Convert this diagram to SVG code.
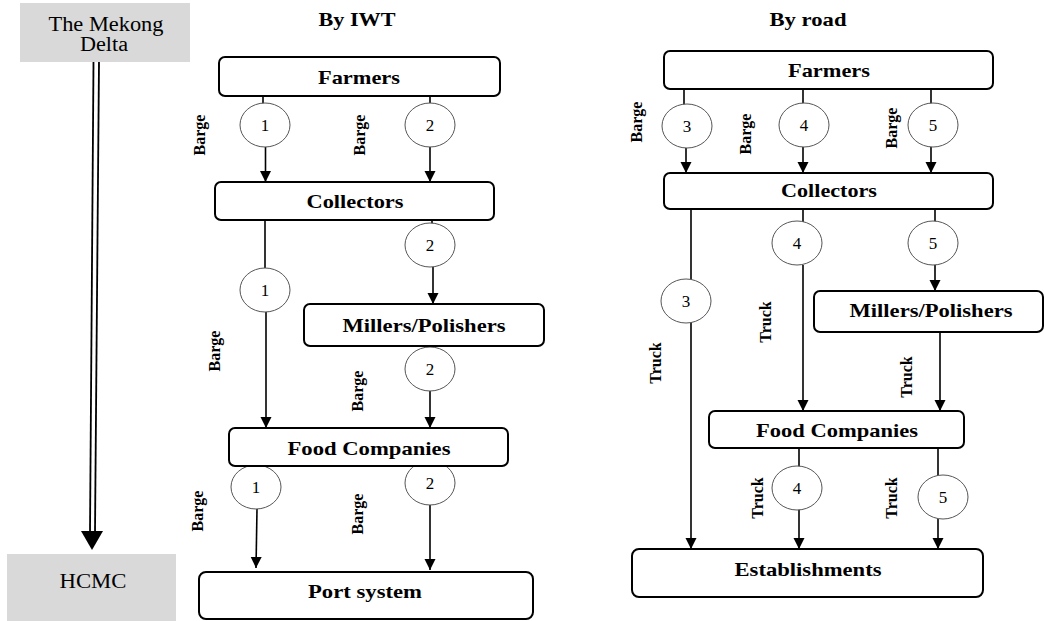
<svg xmlns="http://www.w3.org/2000/svg" width="1044" height="621" viewBox="0 0 1044 621">
  <style>
    .box { fill: #ffffff; stroke: #000000; stroke-width: 2; }
    .region { fill: #d9d9d9; stroke: none; }
    .circ { fill: #ffffff; stroke: #555555; stroke-width: 1; }
    .lbl { font-family: "Liberation Serif", serif; font-weight: bold; font-size: 19px; fill: #000; text-anchor: middle; }
    .reg { font-family: "Liberation Serif", serif; font-size: 20px; fill: #000; text-anchor: middle; }
    .num { font-family: "Liberation Serif", serif; font-size: 17px; fill: #000; text-anchor: middle; }
    .mode { font-family: "Liberation Serif", serif; font-weight: bold; font-size: 16px; fill: #000; text-anchor: middle; }
    .ln { stroke: #000; stroke-width: 1.6; fill: none; }
    .arr { stroke: #000; stroke-width: 1.6; fill: none; marker-end: url(#tip); }
  </style>
  <defs>
    <marker id="tip" viewBox="0 0 10 10" refX="10" refY="5" markerWidth="11" markerHeight="12" markerUnits="userSpaceOnUse" orient="auto">
      <path d="M0,0 L10,5 L0,10 z" fill="#000"/>
    </marker>
  </defs>

  <rect width="1044" height="621" fill="#ffffff"/>

  <!-- Regions -->
  <g id="mekong-delta">
    <rect class="region" x="20" y="3" width="170" height="59"/>
    <text class="reg" x="106" y="31" textLength="115" lengthAdjust="spacingAndGlyphs">The Mekong</text>
    <text class="reg" x="104" y="51" textLength="48" lengthAdjust="spacingAndGlyphs">Delta</text>
  </g>
  <g id="hcmc">
    <rect class="region" x="7" y="554" width="169" height="67"/>
    <text class="reg" x="93" y="588" textLength="67" lengthAdjust="spacingAndGlyphs">HCMC</text>
  </g>
  <g id="route-arrow">
    <line x1="93.5" y1="62" x2="90" y2="532" stroke="#000" stroke-width="1.8"/>
    <line x1="99" y1="62" x2="95" y2="532" stroke="#000" stroke-width="1.8"/>
    <polygon points="81,531 103,531 92,550" fill="#000"/>
  </g>

  <!-- Titles -->
  <text class="lbl" x="357" y="26" font-size="18" textLength="77" lengthAdjust="spacingAndGlyphs">By IWT</text>
  <text class="lbl" x="808" y="26" font-size="18" textLength="77" lengthAdjust="spacingAndGlyphs">By road</text>

  <!-- Connectors -->
  <g id="connectors">
    <!-- IWT chain 1 -->
    <line class="ln" x1="263" y1="96" x2="263" y2="104"/>
    <line class="arr" x1="265.5" y1="147" x2="265.5" y2="182"/>
    <line class="ln" x1="265" y1="220" x2="265" y2="268"/>
    <line class="arr" x1="266" y1="312" x2="266" y2="428"/>
    <line class="arr" x1="257" y1="509" x2="256" y2="568"/>
    <!-- IWT chain 2 -->
    <line class="ln" x1="430" y1="96" x2="430" y2="104"/>
    <line class="arr" x1="430" y1="147" x2="430" y2="182"/>
    <line class="ln" x1="432" y1="220" x2="432" y2="224"/>
    <line class="arr" x1="433" y1="267" x2="433" y2="304"/>
    <line class="arr" x1="430" y1="391" x2="430" y2="428"/>
    <line class="arr" x1="430" y1="505" x2="430" y2="570"/>
    <!-- Road chain 3 -->
    <line class="ln" x1="684" y1="89" x2="684" y2="105"/>
    <line class="arr" x1="686" y1="148" x2="686" y2="173"/>
    <line class="ln" x1="691" y1="209" x2="691" y2="281"/>
    <line class="arr" x1="691" y1="322" x2="691" y2="549"/>
    <!-- Road chain 4 -->
    <line class="ln" x1="803" y1="89" x2="803" y2="104"/>
    <line class="arr" x1="803" y1="147" x2="803" y2="173"/>
    <line class="ln" x1="803" y1="209" x2="803" y2="222"/>
    <line class="arr" x1="803" y1="265" x2="803" y2="411"/>
    <line class="ln" x1="799" y1="448" x2="799" y2="467"/>
    <line class="arr" x1="799" y1="509" x2="799" y2="549"/>
    <!-- Road chain 5 -->
    <line class="ln" x1="931" y1="89" x2="931" y2="104"/>
    <line class="arr" x1="931" y1="147" x2="931" y2="173"/>
    <line class="ln" x1="935" y1="209" x2="935" y2="222"/>
    <line class="arr" x1="935" y1="265" x2="935" y2="291"/>
    <line class="arr" x1="940" y1="332" x2="940" y2="411"/>
    <line class="ln" x1="938" y1="448" x2="938" y2="477"/>
    <line class="arr" x1="938" y1="519" x2="938" y2="549"/>
  </g>

  <!-- Route markers -->
  <g id="route-markers">
    <ellipse class="circ" cx="265" cy="125" rx="25" ry="22"/><text class="num" x="265" y="131">1</text>
    <ellipse class="circ" cx="430" cy="125" rx="25" ry="22"/><text class="num" x="430" y="131">2</text>
    <ellipse class="circ" cx="430" cy="245" rx="25" ry="22"/><text class="num" x="430" y="251">2</text>
    <ellipse class="circ" cx="265" cy="290" rx="25" ry="22"/><text class="num" x="265" y="296">1</text>
    <ellipse class="circ" cx="430" cy="369" rx="25" ry="22"/><text class="num" x="430" y="375">2</text>
    <ellipse class="circ" cx="256" cy="487" rx="25" ry="22"/><text class="num" x="256" y="493">1</text>
    <ellipse class="circ" cx="430" cy="483" rx="25" ry="22"/><text class="num" x="430" y="489">2</text>

    <ellipse class="circ" cx="687" cy="126" rx="25" ry="22"/><text class="num" x="687" y="132">3</text>
    <ellipse class="circ" cx="804" cy="125" rx="25" ry="22"/><text class="num" x="804" y="131">4</text>
    <ellipse class="circ" cx="933" cy="125" rx="25" ry="22"/><text class="num" x="933" y="131">5</text>
    <ellipse class="circ" cx="797" cy="243" rx="25" ry="22"/><text class="num" x="797" y="249">4</text>
    <ellipse class="circ" cx="933" cy="243" rx="25" ry="22"/><text class="num" x="933" y="249">5</text>
    <ellipse class="circ" cx="686" cy="301" rx="25" ry="22"/><text class="num" x="686" y="307">3</text>
    <ellipse class="circ" cx="797" cy="488" rx="25" ry="22"/><text class="num" x="797" y="494">4</text>
    <ellipse class="circ" cx="943" cy="497" rx="25" ry="22"/><text class="num" x="943" y="503">5</text>
  </g>

  <!-- Transport mode labels -->
  <g id="mode-labels">
    <text class="mode" transform="translate(205,135) rotate(-90)">Barge</text>
    <text class="mode" transform="translate(365,135) rotate(-90)">Barge</text>
    <text class="mode" transform="translate(220,351) rotate(-90)">Barge</text>
    <text class="mode" transform="translate(363,391) rotate(-90)">Barge</text>
    <text class="mode" transform="translate(203,511) rotate(-90)">Barge</text>
    <text class="mode" transform="translate(363,514) rotate(-90)">Barge</text>
    <text class="mode" transform="translate(642,122) rotate(-90)">Barge</text>
    <text class="mode" transform="translate(751,134) rotate(-90)">Barge</text>
    <text class="mode" transform="translate(897,128) rotate(-90)">Barge</text>
    <text class="mode" transform="translate(771,322) rotate(-90)">Truck</text>
    <text class="mode" transform="translate(661,363) rotate(-90)">Truck</text>
    <text class="mode" transform="translate(912,377) rotate(-90)">Truck</text>
    <text class="mode" transform="translate(763,498) rotate(-90)">Truck</text>
    <text class="mode" transform="translate(897,498) rotate(-90)">Truck</text>
  </g>

  <!-- IWT nodes -->
  <g id="iwt-farmers">
    <rect class="box" x="219" y="57" width="281" height="39" rx="6"/>
    <text class="lbl" x="359" y="84" textLength="82" lengthAdjust="spacingAndGlyphs">Farmers</text>
  </g>
  <g id="iwt-collectors">
    <rect class="box" x="215" y="182" width="279" height="38" rx="6"/>
    <text class="lbl" x="355" y="208" textLength="97" lengthAdjust="spacingAndGlyphs">Collectors</text>
  </g>
  <g id="iwt-millers">
    <rect class="box" x="304" y="304" width="240" height="42" rx="6"/>
    <text class="lbl" x="424" y="332" textLength="163" lengthAdjust="spacingAndGlyphs">Millers/Polishers</text>
  </g>
  <g id="iwt-food-companies">
    <rect class="box" x="229" y="428" width="279" height="38" rx="6"/>
    <text class="lbl" x="369" y="455" textLength="163" lengthAdjust="spacingAndGlyphs">Food Companies</text>
  </g>
  <g id="iwt-port-system">
    <rect class="box" x="199" y="572" width="334" height="47" rx="7"/>
    <text class="lbl" x="365" y="598" textLength="114" lengthAdjust="spacingAndGlyphs">Port system</text>
  </g>

  <!-- Road nodes -->
  <g id="road-farmers">
    <rect class="box" x="664" y="51" width="329" height="38" rx="6"/>
    <text class="lbl" x="829" y="77" textLength="82" lengthAdjust="spacingAndGlyphs">Farmers</text>
  </g>
  <g id="road-collectors">
    <rect class="box" x="664" y="173" width="329" height="36" rx="6"/>
    <text class="lbl" x="829" y="197" textLength="96" lengthAdjust="spacingAndGlyphs">Collectors</text>
  </g>
  <g id="road-millers">
    <rect class="box" x="814" y="291" width="229" height="41" rx="6"/>
    <text class="lbl" x="931" y="317" textLength="163" lengthAdjust="spacingAndGlyphs">Millers/Polishers</text>
  </g>
  <g id="road-food-companies">
    <rect class="box" x="709" y="411" width="255" height="37" rx="6"/>
    <text class="lbl" x="837" y="437" textLength="162" lengthAdjust="spacingAndGlyphs">Food Companies</text>
  </g>
  <g id="road-establishments">
    <rect class="box" x="632" y="549" width="351" height="48" rx="7"/>
    <text class="lbl" x="808" y="576" textLength="147" lengthAdjust="spacingAndGlyphs">Establishments</text>
  </g>
</svg>
